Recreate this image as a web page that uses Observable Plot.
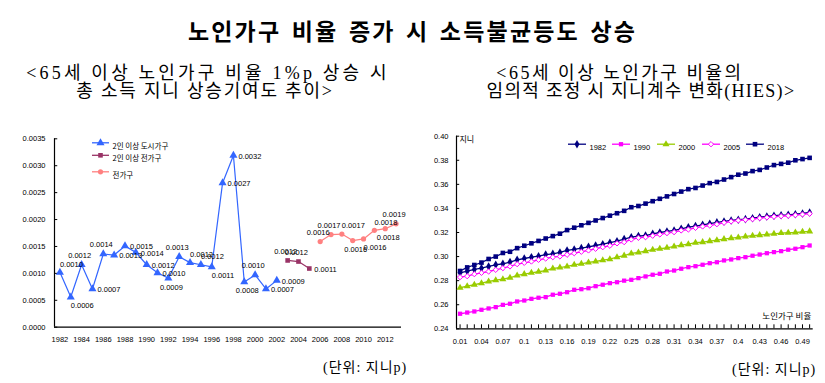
<!DOCTYPE html>
<html><head><meta charset="utf-8">
<script src="https://cdn.jsdelivr.net/npm/d3@7"></script>
<script src="https://cdn.jsdelivr.net/npm/@observablehq/plot@0.6"></script>
<style>
body{margin:0;background:#fff;}
#wrap{position:relative;width:825px;height:383px;overflow:hidden;background:#fff;font-family:"Noto Sans CJK KR",sans-serif;color:#000;}
.abs{position:absolute;white-space:nowrap;}
.title{font-family:"Noto Sans CJK KR";font-weight:700;font-size:23px;letter-spacing:2.2px;word-spacing:3px;left:0;width:825px;text-align:center;top:15px;line-height:30px;}
.sub{font-family:"Liberation Serif","Noto Sans CJK KR";font-size:18px;text-align:center;line-height:18px;width:400px;}
.unit{font-family:"Liberation Serif","Noto Sans CJK KR";font-size:14px;letter-spacing:1px;}
.leg{font-family:"Noto Sans CJK KR";font-size:7.5px;display:flex;align-items:center;}
.leg svg{display:block;}
.chart{position:absolute;top:120px;}
</style></head>
<body><div id="wrap">
<div class="abs title">노인가구 비율 증가 시 소득불균등도 상승</div>
<div class="abs sub" style="left:8px;top:64px;letter-spacing:3.2px;">&lt;65세 이상 노인가구 비율 1%p 상승 시</div>
<div class="abs sub" style="left:5px;top:82px;letter-spacing:1.8px;">총 소득 지니 상승기여도 추이&gt;</div>
<div class="abs sub" style="left:420px;top:64px;letter-spacing:2.5px;">&lt;65세 이상 노인가구 비율의</div>
<div class="abs sub" style="left:441px;top:82px;letter-spacing:1.3px;">임의적 조정 시 지니계수 변화(HIES)&gt;</div>
<div id="left" class="chart" style="left:0px;"></div>
<div id="right" class="chart" style="left:412px;"></div>
<div class="abs unit" style="left:323px;top:356px;">(단위: 지니p)</div>
<div class="abs unit" style="left:732px;top:358px;">(단위: 지니p)</div>
</div>
<script>
// ---------- Left chart data ----------
const leftSeriesNames = ["2인 이상 도시가구", "2인 이상 전가구", "전가구"];
const urbanYears = [1982,1983,1984,1985,1986,1987,1988,1989,1990,1991,1992,1993,1994,1995,1996,1997,1998,1999,2000,2001,2002];
const urbanValues = [0.00102,0.00056,0.00116,0.00071,0.00136,0.00134,0.00151,0.00139,0.00116,0.00101,0.00091,0.00131,0.00120,0.00116,0.00112,0.00268,0.00319,0.00084,0.00097,0.00071,0.00087];
const urbanLabelPlace = ["tr","br","t","r","t","r","r","r","r","r","b","t","tr","tr","br","r","r","b","t","r","r"];
const allTwoYears = [2003,2004,2005];
const allTwoValues = [0.00124,0.00122,0.00109];
const allTwoLabelPlace = ["t","t","r"];
const allYears = [2006,2007,2008,2009,2010,2011,2012,2013];
const allValues = [0.00159,0.00172,0.00173,0.00161,0.00164,0.00180,0.00183,0.00192];
const allLabelPlace = ["t","t","tr","b","br","tr","b","t"];
const leftYTicks = [0,0.0005,0.0010,0.0015,0.0020,0.0025,0.0030,0.0035];
const leftXTicks = [1982,1984,1986,1988,1990,1992,1994,1996,1998,2000,2002,2004,2006,2008,2010,2012];
const leftColors = ["#3366FF","#993366","#FF8080"];

// ---------- Right chart data ----------
const rightSeriesNames = ["1982","1990","2000","2005","2018"];
const elderShare = [0.01,0.02,0.03,0.04,0.05,0.06,0.07,0.08,0.09,0.1,0.11,0.12,0.13,0.14,0.15,0.16,0.17,0.18,0.19,0.2,0.21,0.22,0.23,0.24,0.25,0.26,0.27,0.28,0.29,0.3,0.31,0.32,0.33,0.34,0.35,0.36,0.37,0.38,0.39,0.4,0.41,0.42,0.43,0.44,0.45,0.46,0.47,0.48,0.49,0.5];
const gini1982 = [0.2865,0.2879,0.2893,0.2904,0.2918,0.2932,0.2940,0.2954,0.2973,0.2984,0.2995,0.3003,0.3017,0.3023,0.3034,0.3051,0.3059,0.3070,0.3081,0.3092,0.3103,0.3115,0.3128,0.3145,0.3161,0.3170,0.3175,0.3189,0.3200,0.3209,0.3217,0.3231,0.3244,0.3253,0.3264,0.3273,0.3284,0.3292,0.3300,0.3306,0.3311,0.3319,0.3327,0.3333,0.3339,0.3344,0.3347,0.3352,0.3358,0.3366];
const gini1990 = [0.2525,0.2535,0.2544,0.2558,0.2569,0.2580,0.2599,0.2608,0.2627,0.2635,0.2649,0.2658,0.2663,0.2683,0.2691,0.2704,0.2724,0.2729,0.2737,0.2754,0.2766,0.2779,0.2787,0.2800,0.2807,0.2821,0.2835,0.2849,0.2857,0.2876,0.2884,0.2899,0.2912,0.2920,0.2932,0.2945,0.2953,0.2968,0.2976,0.2987,0.2995,0.3007,0.3017,0.3028,0.3037,0.3045,0.3057,0.3065,0.3078,0.3092];
const gini2000 = [0.2741,0.2754,0.2766,0.2779,0.2793,0.2804,0.2812,0.2824,0.2843,0.2854,0.2865,0.2874,0.2884,0.2901,0.2909,0.2918,0.2932,0.2940,0.2951,0.2959,0.2970,0.2978,0.2995,0.3008,0.3026,0.3034,0.3045,0.3057,0.3065,0.3073,0.3084,0.3095,0.3103,0.3115,0.3120,0.3128,0.3136,0.3145,0.3153,0.3159,0.3167,0.3173,0.3178,0.3184,0.3189,0.3195,0.3198,0.3200,0.3206,0.3209];
const gini2005 = [0.2829,0.2837,0.2854,0.2865,0.2876,0.2890,0.2904,0.2918,0.2937,0.2948,0.2959,0.2973,0.2984,0.2995,0.3001,0.3015,0.3028,0.3040,0.3051,0.3065,0.3078,0.3090,0.3110,0.3120,0.3142,0.3156,0.3161,0.3173,0.3184,0.3195,0.3203,0.3217,0.3225,0.3239,0.3250,0.3258,0.3269,0.3281,0.3292,0.3300,0.3306,0.3311,0.3319,0.3325,0.3331,0.3336,0.3339,0.3344,0.3350,0.3356];
const gini2018 = [0.288,0.291,0.293,0.295,0.298,0.300,0.303,0.304,0.307,0.309,0.311,0.313,0.315,0.317,0.319,0.322,0.324,0.326,0.328,0.330,0.332,0.334,0.336,0.338,0.341,0.342,0.344,0.346,0.348,0.350,0.352,0.354,0.356,0.357,0.359,0.361,0.362,0.364,0.366,0.368,0.369,0.371,0.372,0.374,0.376,0.377,0.378,0.380,0.381,0.382];
const rightXTicks = [0.01,0.04,0.07,0.1,0.13,0.16,0.19,0.22,0.25,0.28,0.31,0.34,0.37,0.4,0.43,0.46,0.49];
const rightYTicks = [0.24,0.26,0.28,0.30,0.32,0.34,0.36,0.38,0.40];
const rightYLabel = "지니";
const rightXLabel = "노인가구 비율";

// ---------- Left chart ----------
const mk = (years, vals, places, s) => years.map((y, i) => ({year: y, value: vals[i], place: places[i], series: s}));
const leftGroups = [
  mk(urbanYears, urbanValues, urbanLabelPlace, 0),
  mk(allTwoYears, allTwoValues, allTwoLabelPlace, 1),
  mk(allYears, allValues, allLabelPlace, 2)
];
const leftData = leftGroups.flat();
const leftSymbols = ["triangle", "square", "circle"];
const leftR = [3.0, 2.6, 2.6];
const fmt4 = d3.format(".4f");
const placeStyle = {
  r: {textAnchor: "start", dx: 5, dy: 1},
  t: {textAnchor: "middle", dx: -2, dy: -9},
  b: {textAnchor: "middle", dx: 3, dy: 9},
  tr: {textAnchor: "start", dx: 0, dy: -8},
  br: {textAnchor: "start", dx: 0, dy: 9}
};
const tickFont = "'Liberation Sans', Arial, sans-serif";

const leftMarks = [
  Plot.ruleY([0], {stroke: "#000", strokeWidth: 1.2}),
  Plot.ruleX([1981.5], {stroke: "#000", strokeWidth: 1.2}),
  Plot.ruleY(leftYTicks, {x1: 1981.5, x2: 1981.8, stroke: "#000"})
];
leftGroups.forEach((g, s) => {
  leftMarks.push(Plot.line(g, {x: "year", y: "value", stroke: leftColors[s], strokeWidth: 1.2}));
  leftMarks.push(Plot.dot(g, {x: "year", y: "value", symbol: leftSymbols[s], fill: leftColors[s], stroke: "none", r: leftR[s]}));
});
Object.keys(placeStyle).forEach(k => {
  leftMarks.push(Plot.text(leftData.filter(d => d.place === k), {
    x: "year", y: "value", text: d => fmt4(d.value), fill: "#000", fontSize: 7.5, ...placeStyle[k]
  }));
});
// legend (inside plot, top-left)
const legLDy = [4.5, 17, 33.5];
leftSeriesNames.forEach((name, i) => {
  leftMarks.push(Plot.text([name], {frameAnchor: "top-left", text: d => d, textAnchor: "start", dx: 58, dy: legLDy[i], fontSize: 7.5, fontFamily: "Noto Sans CJK KR"}));
});

const leftPlot = Plot.plot({
  width: 410, height: 240,
  marginTop: 18.3, marginBottom: 33.3, marginLeft: 54, marginRight: 9,
  style: {fontFamily: tickFont, fontSize: "7.5px", background: "transparent", color: "#000"},
  x: {type: "linear", domain: [1981.5, 2013.5], ticks: leftXTicks, tickFormat: d => String(d), tickSize: 0, tickPadding: 9, label: null},
  y: {domain: [0, 0.0035], ticks: leftYTicks, tickFormat: fmt4, tickSize: 0, tickPadding: 9, label: null},
  marks: leftMarks
});
document.getElementById("left").appendChild(leftPlot);

// ---------- Right chart ----------
const rightSeries = [gini1982, gini1990, gini2000, gini2005, gini2018];
const rightColors = ["#000080", "#FF00FF", "#99CC00", "#FF00FF", "#000080"];
const rightSymbols = ["diamond", "square", "triangle", "diamond2", "square"];
const rightFill = ["#000080", "#FF00FF", "#99CC00", "#FFFFFF", "#000080"];
const rightR = [2.6, 2.4, 2.6, 2.4, 2.6];
const rightMarks = [
  Plot.ruleY([0.24], {stroke: "#000", strokeWidth: 1.2}),
  Plot.ruleX([0.005], {stroke: "#000", strokeWidth: 1.2}),
  Plot.ruleY(rightYTicks, {x1: 0.005, x2: 0.0095, stroke: "#000"}),
  Plot.ruleX(elderShare, {x: d => d, y1: 0.24, y2: 0.2433, stroke: "#000"}),
  Plot.text([rightYLabel], {frameAnchor: "top-left", text: d => d, textAnchor: "start", dx: 3, dy: 0, fontSize: 8, fontFamily: "Noto Sans CJK KR"}),
  Plot.text([rightXLabel], {frameAnchor: "bottom-right", text: d => d, textAnchor: "end", dx: -2, dy: -10, fontSize: 8.5, fontFamily: "Noto Sans CJK KR"})
];
rightSeries.forEach((vals, s) => {
  const data = elderShare.map((x, i) => ({x, y: vals[i]}));
  rightMarks.push(Plot.line(data, {x: "x", y: "y", stroke: rightColors[s], strokeWidth: 1.3}));
  rightMarks.push(Plot.dot(data, {x: "x", y: "y", symbol: rightSymbols[s], fill: rightFill[s], stroke: s === 3 ? rightColors[s] : "none", strokeWidth: 1, r: rightR[s]}));
});
// legend (inside plot, top)
const legRDx = [112, 156, 201, 246, 290];
rightSeriesNames.forEach((name, i) => {
  rightMarks.push(Plot.text([name], {frameAnchor: "top-left", text: d => d, textAnchor: "start", dx: legRDx[i] + 21, dy: 8.5, fontSize: 7.5}));
});
const rightPlot = Plot.plot({
  width: 413, height: 240,
  marginTop: 15.7, marginBottom: 31.7, marginLeft: 44, marginRight: 12.3,
  style: {fontFamily: tickFont, fontSize: "7.5px", background: "transparent", color: "#000"},
  x: {type: "linear", domain: [0.005, 0.505], ticks: rightXTicks, tickFormat: d => String(d), tickSize: 0, tickPadding: 10, label: null},
  y: {domain: [0.24, 0.40], ticks: rightYTicks, tickFormat: d3.format(".2f"), tickSize: 0, tickPadding: 8, label: null},
  marks: rightMarks
});
document.getElementById("right").appendChild(rightPlot);

// ---------- Legend swatches (drawn into each svg) ----------
function addSwatch(svgNode, x, y, color, symbol, fill, r, w) {
  const g = d3.select(svgNode).append("g").attr("transform", `translate(${x},${y})`);
  g.append("line").attr("x1", 0).attr("x2", w).attr("y1", 0).attr("y2", 0).attr("stroke", color).attr("stroke-width", 1.3);
  const sym = {triangle: d3.symbolTriangle, square: d3.symbolSquare, circle: d3.symbolCircle, diamond: d3.symbolDiamond, diamond2: d3.symbolDiamond2}[symbol];
  g.append("path").attr("d", d3.symbol(sym, Math.PI * r * r)()).attr("transform", `translate(${w / 2},0)`)
    .attr("fill", fill).attr("stroke", fill === "#FFFFFF" ? color : "none");
}
leftSeriesNames.forEach((name, i) => addSwatch(leftPlot, 92, 18.3 + legLDy[i], leftColors[i], leftSymbols[i], leftColors[i], leftR[i], 17));
rightSeriesNames.forEach((name, i) => addSwatch(rightPlot, 44 + legRDx[i], 15.7 + 8.5, rightColors[i], rightSymbols[i], rightFill[i], rightR[i], 18));
</script>
</body></html>
